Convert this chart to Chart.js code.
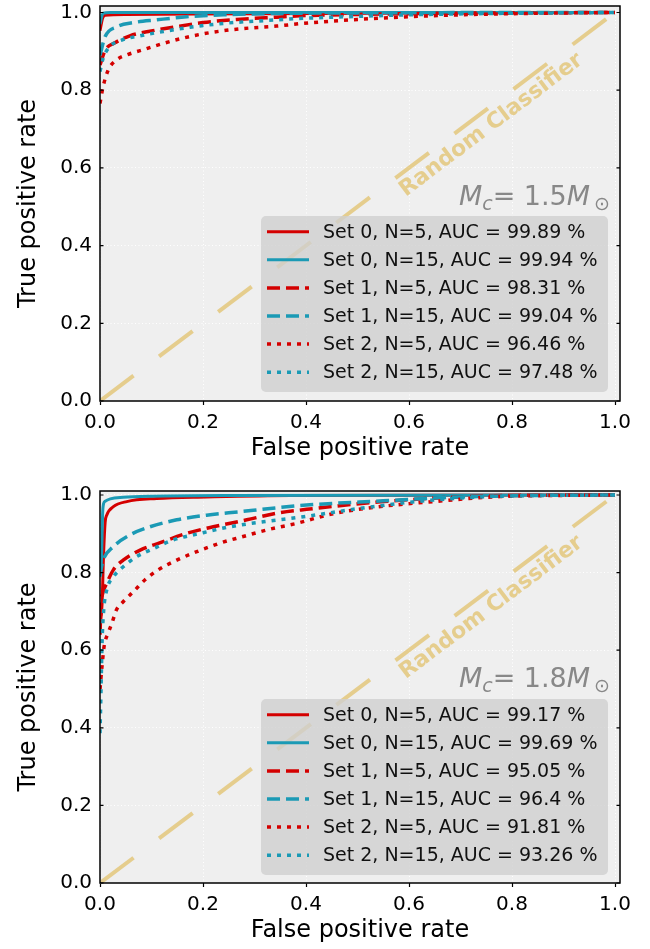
<!DOCTYPE html>
<html>
<head>
<meta charset="utf-8">
<script src="https://cdn.jsdelivr.net/npm/chart.js@4.4.1/dist/chart.umd.min.js"></script>
<style>
  html, body { margin: 0; padding: 0; background: #fff; }
  #wrap { position: relative; width: 650px; height: 949px; }
  canvas { position: absolute; left: 0; }
</style>
</head>
<body>
<div id="wrap">
  <canvas id="rocTop" width="650" height="475" style="top:0"></canvas>
  <canvas id="rocBottom" width="650" height="474" style="top:475px"></canvas>
</div>
<script>
// tick values shared by both axes
const tickValues = [0, 0.2, 0.4, 0.6, 0.8, 1.0];

// legend labels
const topLabels = [
  "Set 0, N=5, AUC = 99.89 %",
  "Set 0, N=15, AUC = 99.94 %",
  "Set 1, N=5, AUC = 98.31 %",
  "Set 1, N=15, AUC = 99.04 %",
  "Set 2, N=5, AUC = 96.46 %",
  "Set 2, N=15, AUC = 97.48 %"
];
const bottomLabels = [
  "Set 0, N=5, AUC = 99.17 %",
  "Set 0, N=15, AUC = 99.69 %",
  "Set 1, N=5, AUC = 95.05 %",
  "Set 1, N=15, AUC = 96.4 %",
  "Set 2, N=5, AUC = 91.81 %",
  "Set 2, N=15, AUC = 93.26 %"
];
const topMass = "1.5";
const bottomMass = "1.8";
const randomLabel = "Random Classifier";

// ROC curves, [false positive rate, true positive rate]
const topS0N5 = [[0,0.953],[0.005,0.985],[0.01,0.993],[0.05,0.995],[0.3,0.997],[1,1]];
const topS0N15 = [[0,0.97],[0.006,0.998],[0.02,1.0],[1,1]];
const topS1N5 = [[0,0.865],[0.01,0.903],[0.029,0.922],[0.058,0.94],[0.094,0.951],[0.142,0.962],[0.2,0.974],[0.265,0.982],[0.343,0.988],[0.4,0.992],[0.5,0.995],[0.6,0.997],[0.8,0.999],[1,1]];
const topS1N15 = [[0,0.89],[0.01,0.938],[0.032,0.963],[0.065,0.974],[0.11,0.981],[0.168,0.989],[0.24,0.994],[0.324,0.997],[0.5,0.999],[1,1]];
const topS2N5 = [[0,0.766],[0.006,0.809],[0.016,0.852],[0.032,0.878],[0.052,0.891],[0.081,0.903],[0.117,0.918],[0.152,0.931],[0.2,0.945],[0.265,0.957],[0.343,0.965],[0.395,0.972],[0.5,0.982],[0.6,0.989],[0.7,0.994],[0.85,0.998],[1,1]];
const topS2N15 = [[0,0.848],[0.006,0.882],[0.019,0.912],[0.042,0.929],[0.078,0.94],[0.123,0.951],[0.175,0.962],[0.24,0.972],[0.317,0.979],[0.395,0.985],[0.5,0.99],[0.6,0.994],[0.8,0.998],[1,1]];

const botS0N5 = [[0,0.66],[0.004,0.72],[0.007,0.85],[0.01,0.93],[0.013,0.948],[0.026,0.97],[0.052,0.983],[0.11,0.991],[0.207,0.995],[0.37,0.999],[1,1]];
const botS0N15 = [[0,0.79],[0.003,0.84],[0.005,0.95],[0.007,0.978],[0.01,0.984],[0.02,0.99],[0.045,0.994],[0.1,0.997],[0.25,0.999],[1,1]];
const botS1N5 = [[0,0.64],[0.002,0.72],[0.005,0.745],[0.013,0.772],[0.026,0.807],[0.045,0.832],[0.078,0.858],[0.117,0.877],[0.168,0.901],[0.22,0.918],[0.285,0.936],[0.343,0.953],[0.401,0.963],[0.55,0.983],[0.68,0.994],[0.81,0.999],[1,1]];
const botS1N15 = [[0,0.79],[0.003,0.815],[0.006,0.832],[0.026,0.867],[0.058,0.897],[0.097,0.918],[0.149,0.936],[0.207,0.948],[0.272,0.957],[0.343,0.967],[0.401,0.974],[0.55,0.985],[0.68,0.994],[0.8,0.998],[1,1]];
const botS2N5 = [[0,0.5],[0.004,0.56],[0.008,0.61],[0.016,0.645],[0.023,0.669],[0.032,0.704],[0.045,0.725],[0.065,0.751],[0.087,0.781],[0.113,0.807],[0.149,0.832],[0.188,0.854],[0.233,0.876],[0.278,0.893],[0.324,0.91],[0.382,0.927],[0.45,0.951],[0.518,0.966],[0.647,0.983],[0.777,0.996],[0.9,0.999],[1,1]];
const botS2N15 = [[0,0.386],[0.002,0.5],[0.004,0.62],[0.007,0.7],[0.013,0.755],[0.026,0.789],[0.045,0.815],[0.071,0.841],[0.104,0.862],[0.142,0.884],[0.194,0.901],[0.252,0.918],[0.317,0.931],[0.395,0.944],[0.518,0.968],[0.647,0.987],[0.777,0.997],[1,1]];

const randomLine = [[0,0],[1,1]];

const RED = "#d40000";
const TEAL = "#1b9ab5";
const KHAKI = "rgba(226,194,108,0.75)";
const estilos = [
  { color: RED,  dash: [] },
  { color: TEAL, dash: [] },
  { color: RED,  dash: [13, 6] },
  { color: TEAL, dash: [13, 6] },
  { color: RED,  dash: [4, 6] },
  { color: TEAL, dash: [4, 6] }
];

Chart.defaults.font.family = "'DejaVu Sans', sans-serif";
Chart.defaults.color = "#000";

function toPoints(arr){
  return arr.map(p => ({ x: p[0], y: p[1] }));
}

function buildDatasets(series, labels){
  const ds = series.map((s, i) => ({
    label: labels[i],
    data: toPoints(s),
    borderColor: estilos[i].color,
    borderDash: estilos[i].dash,
    borderWidth: i < 2 ? 3 : 3.5,
    pointRadius: 0,
    fill: false,
    cubicInterpolationMode: "monotone",
    order: -i
  }));
  ds.push({
    label: randomLabel,
    data: toPoints(randomLine),
    borderColor: KHAKI,
    borderDash: [42, 32],
    borderWidth: 4,
    pointRadius: 0,
    fill: false,
    order: 100
  });
  return ds;
}

function drawLegend(chart, gap){
  const ctx = chart.ctx, a = chart.chartArea;
  const w = 347, h = 176;
  const x0 = a.right - 12 - w, y0 = a.bottom - gap - h;
  ctx.save();
  ctx.fillStyle = "rgba(208,208,208,0.8)";
  ctx.beginPath();
  ctx.roundRect(x0, y0, w, h, 5);
  ctx.fill();
  ctx.font = "19px 'DejaVu Sans'";
  ctx.textBaseline = "middle";
  chart.data.datasets.slice(0, 6).forEach((ds, i) => {
    const yy = y0 + 15.7 + i * 28.1;
    ctx.strokeStyle = ds.borderColor;
    ctx.lineWidth = ds.borderWidth;
    ctx.setLineDash(ds.borderDash);
    ctx.beginPath();
    ctx.moveTo(x0 + 6, yy);
    ctx.lineTo(x0 + 48, yy);
    ctx.stroke();
    ctx.setLineDash([]);
    ctx.fillStyle = "#111";
    ctx.fillText(ds.label, x0 + 62, yy + 1);
  });
  ctx.restore();
}

function drawMass(chart, mass){
  const ctx = chart.ctx, a = chart.chartArea;
  const partes = [
    { t: "M", f: "italic 27px 'DejaVu Sans'", dy: 0 },
    { t: "c", f: "italic 19px 'DejaVu Sans'", dy: 5 },
    { t: "= " + mass, f: "27px 'DejaVu Sans'", dy: 0 },
    { t: "M", f: "italic 27px 'DejaVu Sans'", dy: 0 },
    { t: "\u2299", f: "19px 'DejaVu Sans'", dy: 5 }
  ];
  ctx.save();
  ctx.fillStyle = "#888";
  ctx.textBaseline = "alphabetic";
  let total = 0;
  partes.forEach(p => { ctx.font = p.f; total += ctx.measureText(p.t).width; });
  total += 4;
  let x = a.right - 10 - total;
  const base = a.bottom - 196;
  partes.forEach((p, i) => {
    if(i === 4) x += 4;
    ctx.font = p.f;
    ctx.fillText(p.t, x, base + p.dy);
    x += ctx.measureText(p.t).width;
  });
  ctx.restore();
}

function drawRandomText(chart){
  const ctx = chart.ctx, sx = chart.scales.x, sy = chart.scales.y;
  const ang = Math.atan2(sy.getPixelForValue(1) - sy.getPixelForValue(0), sx.getPixelForValue(1) - sx.getPixelForValue(0));
  ctx.save();
  ctx.translate(sx.getPixelForValue(0.76), sy.getPixelForValue(0.71));
  ctx.rotate(ang);
  ctx.font = "bold 22px 'DejaVu Sans'";
  ctx.fillStyle = KHAKI;
  ctx.textAlign = "center";
  ctx.textBaseline = "middle";
  ctx.fillText(randomLabel, 0, 0);
  ctx.restore();
}

function drawFrame(chart){
  const ctx = chart.ctx, a = chart.chartArea, sy = chart.scales.y;
  ctx.save();
  ctx.strokeStyle = "#000";
  ctx.lineWidth = 1.5;
  ctx.strokeRect(a.left, a.top, a.right - a.left, a.bottom - a.top);
  ctx.lineWidth = 1.2;
  tickValues.forEach(v => {
    const y = sy.getPixelForValue(v);
    ctx.beginPath();
    ctx.moveTo(a.left, y); ctx.lineTo(a.left + 3.5, y);
    ctx.moveTo(a.right, y); ctx.lineTo(a.right - 3.5, y);
    ctx.stroke();
  });
  ctx.restore();
}

const rocDecor = {
  id: "rocDecor",
  beforeDraw(chart){
    const a = chart.chartArea, ctx = chart.ctx;
    ctx.save();
    ctx.fillStyle = "#efefef";
    ctx.fillRect(a.left, a.top, a.right - a.left, a.bottom - a.top);
    ctx.restore();
  },
  afterDatasetsDraw(chart){
    drawRandomText(chart);
  },
  afterDraw(chart, args, opts){
    drawMass(chart, opts.mass);
    drawLegend(chart, opts.legendGap);
    drawFrame(chart);
  }
};

function crearGrafica(id, series, labels, mass, yMax, padTop, padBottom, legendGap){
  return new Chart(document.getElementById(id), {
    type: "line",
    data: { datasets: buildDatasets(series, labels) },
    plugins: [rocDecor],
    options: {
      responsive: false,
      animation: false,
      events: [],
      layout: { padding: { left: 0, right: 30, top: padTop, bottom: padBottom } },
      plugins: {
        legend: { display: false },
        tooltip: { enabled: false },
        rocDecor: { mass: mass, legendGap: legendGap }
      },
      scales: {
        x: {
          type: "linear",
          min: 0,
          max: 1.0097,
          afterBuildTicks: s => { s.ticks = tickValues.map(v => ({ value: v })); },
          afterFit: s => { s.height = 62; s.paddingLeft = 0; s.paddingRight = 0; },
          ticks: { font: { size: 20 }, color: "#000", padding: 6, maxRotation: 0, callback: v => Number(v).toFixed(1) },
          grid: { color: "#ffffff", lineWidth: 1, drawTicks: true, tickLength: 4, tickColor: "#000", tickWidth: 1.2, tickBorderDash: [] },
          border: { display: false, dash: [1, 2.5] },
          title: { display: true, text: "False positive rate", font: { size: 24 }, color: "#000", padding: { top: 0, bottom: 0 } }
        },
        y: {
          type: "linear",
          min: 0,
          max: yMax,
          afterBuildTicks: s => { s.ticks = tickValues.map(v => ({ value: v })); },
          afterFit: s => { s.width = 100; s.paddingTop = 0; s.paddingBottom = 0; },
          ticks: { font: { size: 20 }, color: "#000", padding: 8, callback: v => Number(v).toFixed(1) },
          grid: { color: "#ffffff", lineWidth: 1, drawTicks: false },
          border: { display: false, dash: [1, 2.5] },
          title: { display: true, text: "True positive rate", font: { size: 24 }, color: "#000", padding: { top: 14.6, bottom: 0 } }
        }
      }
    }
  });
}

crearGrafica("rocTop",
  [topS0N5, topS0N15, topS1N5, topS1N15, topS2N5, topS2N15],
  topLabels, topMass, 1.0167, 6, 12, 9);

crearGrafica("rocBottom",
  [botS0N5, botS0N15, botS1N5, botS1N15, botS2N5, botS2N15],
  bottomLabels, bottomMass, 1.0103, 16, 4, 8);
</script>
</body>
</html>
